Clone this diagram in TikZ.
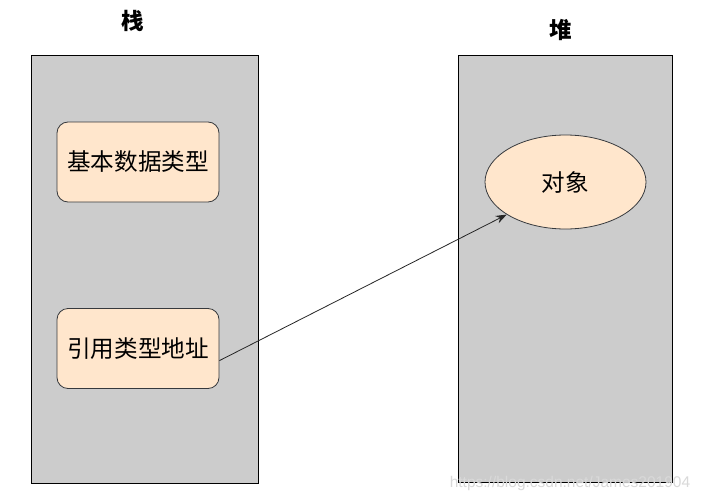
\documentclass[tikz,border=0pt]{standalone}
\usepackage{fontspec}
\setmainfont{Noto Sans CJK SC}
\newfontfamily\wmfont{Liberation Sans}
\usetikzlibrary{shapes.geometric,arrows.meta,calc}
\definecolor{areagray}{HTML}{CCCCCC}
\definecolor{boxfill}{HTML}{FFE6CC}
\definecolor{boxline}{HTML}{36393D}
\begin{document}
\begin{tikzpicture}[x=1pt,y=-1pt,
  area/.style={draw=black,line width=0.8pt,fill=areagray},
  itembox/.style={draw=boxline,line width=0.8pt,fill=boxfill,rounded corners=11pt,
    minimum width=162pt,minimum height=80pt,inner sep=0pt,font=\fontsize{23.6}{28}\selectfont},
  objell/.style={ellipse,draw=boxline,line width=0.8pt,fill=boxfill,
    minimum width=161pt,minimum height=94pt,inner sep=0pt,font=\fontsize{23.6}{28}\selectfont},
  title/.style={font=\fontsize{22.5}{26}\selectfont\bfseries,inner sep=0pt},
  link/.style={-{Stealth[length=11pt,width=8pt]},line width=0.8pt,draw=black!85}
]
\useasboundingbox (0,0) rectangle (703,503);
\fill[white] (0,0) rectangle (703,503);
\draw[area] (31,55) rectangle (258,483);
\draw[area] (458,55) rectangle (672,482);
\node[title] (stack) at (133,21) {栈};
\node[title] (heap) at (561,30) {堆};
\node[itembox] (b1) at (138,162) {基本数据类型};
\node[itembox] (b2) at (138,348.5) {引用类型地址};
\node[objell] (obj) at (565.5,182) {对象};
\coordinate (start) at ($(b2.north east)!0.65!(b2.south east)$);
\draw[link] (start) -- (obj.209);
\node[font=\wmfont\fontsize{15.5}{18}\selectfont,text=gray!30,inner sep=0pt] (wm) at (570,483) {https://blog.csdn.net/James201904};
\end{tikzpicture}
\end{document}
